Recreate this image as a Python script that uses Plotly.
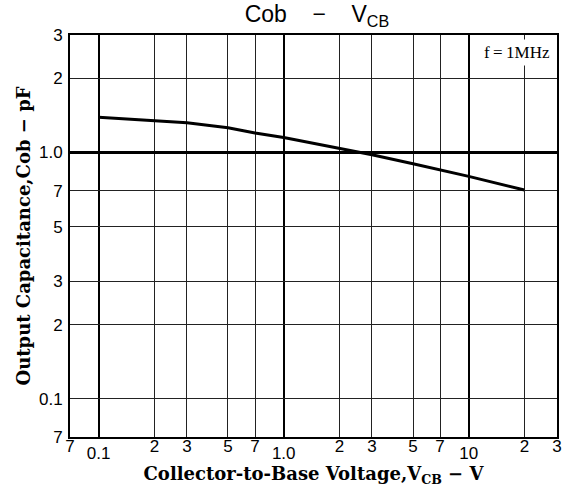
import plotly.graph_objects as go
import math

# Data
vcb = [0.1, 0.2, 0.3, 0.5, 0.7, 1.0, 2.0, 3.0, 5.0, 7.0, 10.0, 20.0]
cob = [1.39, 1.35, 1.32, 1.26, 1.20, 1.15, 1.04, 0.98, 0.90, 0.85, 0.80, 0.705]

x_major_vals = [0.1, 1.0, 10.0]
x_major_text = ["0.1", "1.0", "10"]
x_minor_vals = [0.07, 0.2, 0.3, 0.5, 0.7, 2.0, 3.0, 5.0, 7.0, 20.0, 30.0]
x_minor_text = ["7", "2", "3", "5", "7", "2", "3", "5", "7", "2", "3"]

y_vals = [0.07, 0.1, 0.2, 0.3, 0.5, 0.7, 1.0, 2.0, 3.0]
y_text = ["7", "0.1", "2", "3", "5", "7", "1.0", "2", "3"]
y_thick = [1.0]

x_range = [0.07, 30]
y_range = [0.07, 3]

xr = [math.log10(v) for v in x_range]
yr = [math.log10(v) for v in y_range]

sans = "Liberation Sans, Arial, sans-serif"
serif = "DejaVu Serif, Liberation Serif, serif"
nb = "\u00a0"

fig = go.Figure()
fig.add_trace(go.Scatter(x=vcb, y=cob, mode="lines",
                         line=dict(color="black", width=3), showlegend=False,
                         hoverinfo="skip"))
# helper invisible trace for overlay axes
fig.add_trace(go.Scatter(x=vcb, y=cob, xaxis="x2", yaxis="y2", mode="lines",
                         line=dict(color="rgba(0,0,0,0)", width=0), showlegend=False,
                         hoverinfo="skip"))

fig.update_layout(
    width=566, height=493,
    margin=dict(l=70, r=9, t=35, b=56, autoexpand=False),
    paper_bgcolor="white", plot_bgcolor="white",
    title=dict(text="Cob" + nb * 4 + "\u2212" + nb * 4 + "V<sub>CB</sub>",
               x=0.56, xanchor="center", y=0.972, yanchor="middle",
               font=dict(family=sans, size=23, color="black")),
    xaxis=dict(type="log", range=xr, tickmode="array", automargin=False,
               tickvals=x_major_vals, ticktext=x_major_text,
               showgrid=True, gridcolor="black", gridwidth=1.6,
               showline=True, linecolor="black", linewidth=2, mirror=True,
               ticks="", ticklabelstandoff=0,
               tickfont=dict(family=sans, size=17, color="black"),
               minor=dict(tickmode="array", tickvals=x_minor_vals,
                          showgrid=True, gridcolor="#222", gridwidth=1, ticks=""),
               title=dict(text="Collector-to-Base Voltage,V<sub>CB</sub> \u2212 V" + nb * 4,
                          font=dict(family=serif, size=18, color="black",
                                    weight="bold"),
                          standoff=0),
               zeroline=False),
    xaxis2=dict(type="log", range=xr, overlaying="x", side="bottom", anchor="y",
                automargin=False, ticklabelstandoff=-3,
                tickmode="array", tickvals=x_minor_vals, ticktext=x_minor_text,
                showgrid=False, ticks="", showline=False, zeroline=False,
                tickfont=dict(family=sans, size=17, color="black")),
    yaxis=dict(type="log", range=yr, tickmode="array", automargin=False,
               tickvals=y_vals, ticktext=y_text,
               showgrid=True, gridcolor="#222", gridwidth=1,
               showline=True, linecolor="black", linewidth=2, mirror=True,
               ticks="", ticklabelstandoff=2,
               tickfont=dict(family=sans, size=17, color="black"),
               title=dict(text="Output Capacitance,Cob \u2212 pF",
                          font=dict(family=serif, size=18, color="black",
                                    weight="bold"),
                          standoff=4),
               zeroline=False),
    yaxis2=dict(type="log", range=yr, overlaying="y", side="left", anchor="x",
                automargin=False,
                tickmode="array", tickvals=y_thick, showticklabels=False,
                showgrid=True, gridcolor="black", gridwidth=2.5,
                ticks="", showline=False, zeroline=False),
    annotations=[dict(text="f\u2009=\u20091MHz", xref="paper", yref="paper",
                      x=0.993, y=0.99, xanchor="right", yanchor="top",
                      showarrow=False, bgcolor="white",
                      font=dict(family="Liberation Serif, serif", size=17,
                                color="black"),
                      borderpad=3)],
)

fig.write_html("out.html", config={"displayModeBar": False},
               post_script="document.body.style.margin='0';document.body.style.padding='0';")
